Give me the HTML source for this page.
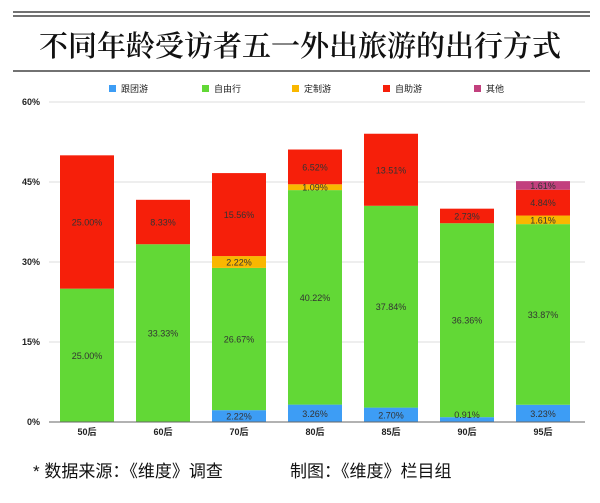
<!DOCTYPE html>
<html><head><meta charset="utf-8"><style>
body{margin:0;background:#fff;}
svg{display:block;font-family:"Liberation Sans","Noto Sans CJK SC",sans-serif;}
</style></head><body>
<svg width="600" height="503" viewBox="0 0 600 503">
<rect width="600" height="503" fill="#fff"/>
<line x1="13" y1="12" x2="590" y2="12" stroke="#444" stroke-width="1.5"/>
<line x1="13" y1="16" x2="590" y2="16" stroke="#444" stroke-width="1.5"/>
<text x="300" y="56" text-anchor="middle" font-family="'Noto Serif CJK SC',serif" font-weight="600" font-size="29" fill="#111">不同年龄受访者五一外出旅游的出行方式</text>
<line x1="13" y1="71" x2="590" y2="71" stroke="#444" stroke-width="1.5"/>
<g font-size="9" fill="#222">
<rect x="109" y="85" width="7" height="7" fill="#3d9df5"/><text x="121" y="92">跟团游</text>
<rect x="202" y="85" width="7" height="7" fill="#62d836"/><text x="214" y="92">自由行</text>
<rect x="292" y="85" width="7" height="7" fill="#f9b700"/><text x="304" y="92">定制游</text>
<rect x="383" y="85" width="7" height="7" fill="#f61f0a"/><text x="395" y="92">自助游</text>
<rect x="474" y="85" width="7" height="7" fill="#c2407e"/><text x="486" y="92">其他</text>
</g>
<g stroke="#ddd" stroke-width="1">
<line x1="49" y1="102" x2="585" y2="102"/><line x1="49" y1="182" x2="585" y2="182"/>
<line x1="49" y1="262" x2="585" y2="262"/><line x1="49" y1="342" x2="585" y2="342"/>
</g>
<g font-size="9" fill="#222" font-weight="bold" text-anchor="end">
<text x="40" y="105">60%</text><text x="40" y="185">45%</text><text x="40" y="265">30%</text><text x="40" y="345">15%</text><text x="40" y="425">0%</text>
</g>
<g>
<rect x="60" y="288.67" width="54" height="133.33" fill="#62d836"/>
<rect x="60" y="155.33" width="54" height="133.33" fill="#f61f0a"/>
<rect x="136" y="244.24" width="54" height="177.76" fill="#62d836"/>
<rect x="136" y="199.81" width="54" height="44.43" fill="#f61f0a"/>
<rect x="212" y="410.16" width="54" height="11.84" fill="#3d9df5"/>
<rect x="212" y="267.92" width="54" height="142.24" fill="#62d836"/>
<rect x="212" y="256.08" width="54" height="11.84" fill="#f9b700"/>
<rect x="212" y="173.09" width="54" height="82.99" fill="#f61f0a"/>
<rect x="288" y="404.61" width="54" height="17.39" fill="#3d9df5"/>
<rect x="288" y="190.1" width="54" height="214.51" fill="#62d836"/>
<rect x="288" y="184.29" width="54" height="5.81" fill="#f9b700"/>
<rect x="288" y="149.52" width="54" height="34.77" fill="#f61f0a"/>
<rect x="364" y="407.6" width="54" height="14.4" fill="#3d9df5"/>
<rect x="364" y="205.79" width="54" height="201.81" fill="#62d836"/>
<rect x="364" y="133.74" width="54" height="72.05" fill="#f61f0a"/>
<rect x="440" y="417.15" width="54" height="4.85" fill="#3d9df5"/>
<rect x="440" y="223.23" width="54" height="193.92" fill="#62d836"/>
<rect x="440" y="208.67" width="54" height="14.56" fill="#f61f0a"/>
<rect x="516" y="404.77" width="54" height="17.23" fill="#3d9df5"/>
<rect x="516" y="224.13" width="54" height="180.64" fill="#62d836"/>
<rect x="516" y="215.54" width="54" height="8.59" fill="#f9b700"/>
<rect x="516" y="189.73" width="54" height="25.81" fill="#f61f0a"/>
<rect x="516" y="181.14" width="54" height="8.59" fill="#c2407e"/>
</g>
<g font-size="9" fill="#333" text-anchor="middle">
<text x="87" y="358.8">25.00%</text><text x="87" y="225.5">25.00%</text>
<text x="163" y="336.6">33.33%</text><text x="163" y="225.5">8.33%</text>
<text x="239" y="419.6">2.22%</text><text x="239" y="342.5">26.67%</text><text x="239" y="265.5">2.22%</text><text x="239" y="218.1">15.56%</text>
<text x="315" y="416.8">3.26%</text><text x="315" y="300.9">40.22%</text><text x="315" y="190.7">1.09%</text><text x="315" y="170.4">6.52%</text>
<text x="391" y="418.3">2.70%</text><text x="391" y="310.2">37.84%</text><text x="391" y="173.3">13.51%</text>
<text x="467" y="418">0.91%</text><text x="467" y="323.7">36.36%</text><text x="467" y="219.5">2.73%</text>
<text x="543" y="416.9">3.23%</text><text x="543" y="318">33.87%</text><text x="543" y="223.3">1.61%</text><text x="543" y="206.1">4.84%</text><text x="543" y="188.9">1.61%</text>
</g>
<line x1="49" y1="422" x2="585" y2="422" stroke="#666" stroke-width="1"/>
<g font-size="9" fill="#222" font-weight="bold" text-anchor="middle">
<text x="87" y="435">50后</text><text x="163" y="435">60后</text><text x="239" y="435">70后</text><text x="315" y="435">80后</text><text x="391" y="435">85后</text><text x="467" y="435">90后</text><text x="543" y="435">95后</text>
</g>
<text x="33" y="477" font-size="17" fill="#111">*  数据来源：《维度》调查</text>
<text x="290" y="477" font-size="17" fill="#111">制图：《维度》栏目组</text>
</svg>
</body></html>
